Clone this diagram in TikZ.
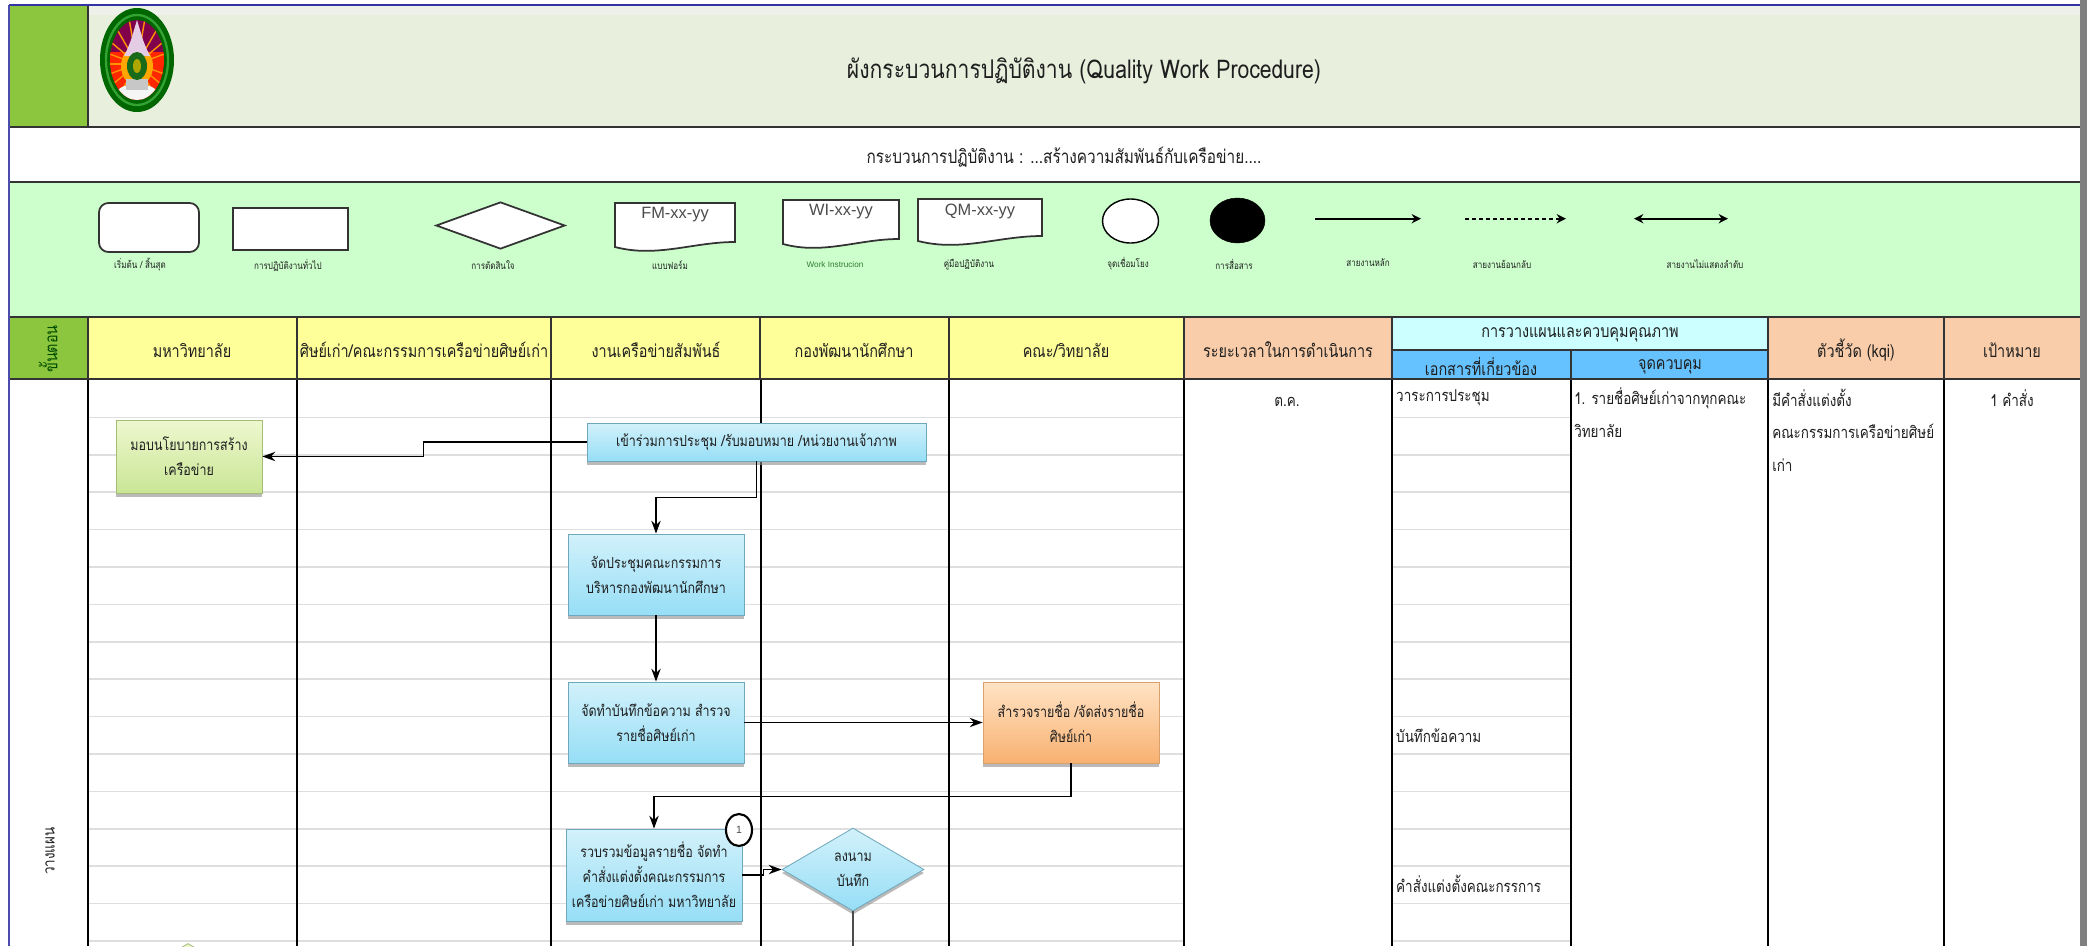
\documentclass[tikz,border=0pt]{standalone}
\usepackage{fontspec}
\setmainfont[Script=Thai,FakeStretch=0.82]{Loma}
\newfontfamily\latf{Liberation Sans}
\usetikzlibrary{arrows.meta,shapes.geometric,shadows,calc}
\newdimen\px \px=0.03cm
\newcommand{\tf}[2]{\fontsize{#1}{#2}\selectfont}
\definecolor{titlebg}{HTML}{E8EFDC}
\definecolor{titletop}{HTML}{EEF1EA}
\definecolor{leafg}{HTML}{8CC63F}
\definecolor{legbg}{HTML}{CCFFCC}
\definecolor{headY}{HTML}{FFFF99}
\definecolor{headP}{HTML}{F9CDAA}
\definecolor{headC}{HTML}{CCFFFF}
\definecolor{headB}{HTML}{66C2FF}
\definecolor{rule}{HTML}{333333}
\definecolor{rowline}{HTML}{DEDEDE}
\definecolor{ink}{HTML}{1E1E1E}
\definecolor{blueT}{HTML}{D2F1FB}
\definecolor{blueB}{HTML}{96DEF6}
\definecolor{blueE}{HTML}{6FA8BC}
\definecolor{orT}{HTML}{FFE3C5}
\definecolor{orB}{HTML}{F8B171}
\definecolor{orE}{HTML}{D9A06C}
\definecolor{grT}{HTML}{EEF7CF}
\definecolor{grB}{HTML}{C9E695}
\definecolor{grE}{HTML}{A3BC78}
\tikzset{
 cellh/.style={font=\tf{15}{18}, text=ink, inner sep=0pt},
 bodyt/.style={font=\tf{14}{17}, text=ink, inner sep=0pt},
 legl/.style={font=\tf{8.4}{10}, text=ink, inner sep=0pt},
 legshape/.style={draw=rule, line width=1.5pt, fill=white, inner sep=0pt},
 procbase/.style={rectangle, align=center, inner sep=0pt, font=\tf{13}{21.3}, text=ink, line width=0.7pt,
   drop shadow={shadow xshift=0pt, shadow yshift=-3pt, fill=black!45, opacity=.6}},
 blueproc/.style={procbase, draw=blueE, top color=blueT, bottom color=blueB},
 orangeproc/.style={procbase, draw=orE, top color=orT, bottom color=orB},
 greenproc/.style={procbase, draw=grE, top color=grT, bottom color=grB},
 flow/.style={draw=black, line width=1.3pt, -{Stealth[length=11pt,width=8pt]}},
 legflow/.style={draw=black, line width=1.6pt, -{Stealth[length=8pt,width=8pt]}},
}
\newcommand{\docshape}[6]{% name x0 y0 x1 y1 text
 \draw[legshape] (#2,#3) -- (#4,#3) -- (#4,#5-8)
   .. controls ({#4-0.35*(#4-#2)},#5-8) and ({#2+0.35*(#4-#2)},#5+8) .. (#2,#5-3) -- cycle;
 \node[font=\latf\tf{14}{16}, text=black!70, inner sep=0pt] (#1) at ({(#2+#4)/2},#3+12) {#6};
}
\begin{document}
\begin{tikzpicture}[x=0.03cm,y=-0.03cm]
\useasboundingbox (0,0) rectangle (2087,946);
\fill[white] (0,0) rectangle (2087,946);
% background bands
\fill[titlebg] (88,6) rectangle (2080,127);
\fill[titletop] (88,6) rectangle (2080,15);
\fill[leafg] (9,6) rectangle (88,127);
\fill[white] (9,127) rectangle (2080,182);
\fill[legbg] (9,182) rectangle (2080,317);
\fill[leafg] (9,317) rectangle (88,379);
\fill[headY] (88,317) rectangle (1184,379);
\fill[headP] (1184,317) rectangle (1392,379);
\fill[headC] (1392,317) rectangle (1768,350);
\fill[headB] (1392,350) rectangle (1768,379);
\fill[headP] (1768,317) rectangle (2080,379);
% body row lines
\foreach \ry in {417.5,455,492,529.5,567,604.5,642,679,716.5,754,791.5,829,866,903.5,941}{
  \draw[rowline, line width=1.5pt] (88,\ry) -- (1184,\ry);
  \draw[rowline, line width=1.5pt] (1392,\ry) -- (1571,\ry);
}
% body column lines
\foreach \cx in {88,297,551,761,949,1184,1392,1571,1768,1944}{
  \draw[black, line width=0.9pt] (\cx,379) -- (\cx,946);
}
% header rules
\foreach \cx in {297,551,760,949,1184,1392,1768,1944}{
  \draw[rule, line width=1.1pt] (\cx,317) -- (\cx,379);
}
\draw[rule, line width=1.1pt] (1571,350) -- (1571,379);
\draw[rule, line width=1.1pt] (1392,350) -- (1768,350);
\draw[rule, line width=1.1pt] (88,6) -- (88,127);
\draw[rule, line width=0.9pt] (88,317) -- (88,379);
\foreach \ry in {127,182,317}{\draw[rule, line width=1.6pt] (9,\ry) -- (2080,\ry);}
\draw[rule, line width=2pt] (9,379) -- (2080,379);
% outer frame
\draw[blue!55!black!80, line width=1.6pt] (9,5) -- (2080,5);
\draw[blue!55!black!70, line width=1pt] (9,5) -- (9,946);
\fill[black!50] (2080,0) rectangle (2087,946);
% logo
\begin{scope}
 \fill[green!40!black] (137,60) ellipse [x radius=37, y radius=52];
 \draw[green!55!black!80, line width=2pt] (137,60) ellipse [x radius=31, y radius=45];
 \clip (137,60) ellipse [x radius=27, y radius=40];
 \fill[violet!75!red!80!black] (100,8) rectangle (174,112);
 \fill[red!70!orange] (100,52) rectangle (174,112);
 \foreach \a in {20,40,...,340}{
   \draw[orange!85!yellow, line width=1.2pt] (137,64) -- ++(\a:50);
 }
 \fill[orange!70!yellow] (137,66) ellipse [x radius=16, y radius=20];
 \fill[white!80!violet] (137,20) -- (131,40) -- (127,50) -- (124,56) -- (150,56) -- (147,50) -- (143,40) -- cycle;
 \fill[white!92!gray] (137,93) ellipse [x radius=20, y radius=9];
 \fill[black!22] (126,79) rectangle (148,90);
\end{scope}
\fill[green!35!black!90] (137,66) ellipse [x radius=10, y radius=14];
\fill[olive!70!yellow] (137,66) ellipse [x radius=4, y radius=7];
% titles
\node[font=\tf{22}{26}, text=ink, inner sep=0pt] (title) at (1084,71) {ผังกระบวนการปฏิบัติงาน (Quality Work Procedure)};
\node[font=\tf{16}{19}, text=ink, inner sep=0pt] (subtitle) at (1064,157) {กระบวนการปฏิบัติงาน : ...สร้างความสัมพันธ์กับเครือข่าย....};
% legend
\node[legshape, rounded corners=8pt, minimum width=100\px, minimum height=49\px] (lgA) at (149,227.5) {};
\node[legshape, minimum width=115\px, minimum height=42\px] (lgB) at (290.5,229) {};
\node[legshape, diamond, aspect=2.7, minimum width=129\px, minimum height=47\px] (lgC) at (500.5,225.5) {};
\docshape{lgD}{615}{203}{735}{250}{FM-xx-yy}
\docshape{lgE}{783}{200}{899}{247}{WI-xx-yy}
\docshape{lgF}{918}{199}{1042}{244}{QM-xx-yy}
\node[ellipse, draw=black, line width=1.2pt, fill=white, minimum width=56\px, minimum height=44\px, inner sep=0pt] (lgG) at (1130.5,221) {};
\node[ellipse, draw=black, fill=black, minimum width=55\px, minimum height=45\px, inner sep=0pt] (lgH) at (1237.5,220.5) {};
\coordinate (a1s) at (1315,218.7); \coordinate (a1e) at (1421,218.7);
\coordinate (a2s) at (1465,218.7); \coordinate (a2e) at (1566,218.7);
\coordinate (a3s) at (1634,218.7); \coordinate (a3e) at (1728,218.7);
\draw[legflow] (a1s) -- (a1e);
\draw[legflow, dashed] (a2s) -- (a2e);
\draw[legflow, {Stealth[length=8pt,width=8pt]}-{Stealth[length=8pt,width=8pt]}] (a3s) -- (a3e);
\node[legl] (t1) at (140,265) {เริ่มต้น / สิ้นสุด};
\node[legl] (t2) at (288,265) {การปฏิบัติงานทั่วไป};
\node[legl] (t3) at (493,265) {การตัดสินใจ};
\node[legl] (t4) at (670,265) {แบบฟอร์ม};
\node[legl, text=green!35!black!80, font=\latf\tf{7}{8}] (t5) at (835,265) {Work Instrucion};
\node[legl] (t6) at (969,265) {คู่มือปฏิบัติงาน};
\node[legl] (t7) at (1128,264) {จุดเชื่อมโยง};
\node[legl] (t8) at (1234,264) {การสื่อสาร};
\node[legl] (t9) at (1368,263) {สายงานหลัก};
\node[legl] (t10) at (1502,264) {สายงานย้อนกลับ};
\node[legl] (t11) at (1705,264) {สายงานไม่แสดงลำดับ};
% header text
\node[cellh, rotate=90, text=green!30!black] (h0) at (48,349) {ขั้นตอน};
\node[cellh] (h1) at (192,350) {มหาวิทยาลัย};
\node[cellh] (h2) at (424,350) {ศิษย์เก่า/คณะกรรมการเครือข่ายศิษย์เก่า};
\node[cellh] (h3) at (656,350) {งานเครือข่ายสัมพันธ์};
\node[cellh] (h4) at (854,350) {กองพัฒนานักศึกษา};
\node[cellh] (h5) at (1066,350) {คณะ/วิทยาลัย};
\node[cellh] (h6) at (1288,350) {ระยะเวลาในการดำเนินการ};
\node[cellh] (h7) at (1580,335) {การวางแผนและควบคุมคุณภาพ};
\node[cellh] (h8) at (1481,367) {เอกสารที่เกี่ยวข้อง};
\node[cellh] (h9) at (1670,367) {จุดควบคุม};
\node[cellh] (h10) at (1856,350) {ตัวชี้วัด (kqi)};
\node[cellh] (h11) at (2012,350) {เป้าหมาย};
% body text
\node[bodyt, rotate=90] (v1) at (50,851) {วางแผน};
\node[bodyt] (c1) at (1287,402) {ต.ค.};
\node[bodyt, anchor=west] (c2) at (1396,398) {วาระการประชุม};
\node[bodyt, anchor=west] (c3) at (1396,735.5) {บันทึกข้อความ};
\node[bodyt, anchor=west] (c4) at (1396,883.5) {คำสั่งแต่งตั้งคณะกรรการ};
\node[bodyt, anchor=west] (c5) at (1574,398) {1. รายชื่อศิษย์เก่าจากทุกคณะ};
\node[bodyt, anchor=west] (c6) at (1574,431) {วิทยาลัย};
\node[bodyt, anchor=west] (c7) at (1772,398) {มีคำสั่งแต่งตั้ง};
\node[bodyt, anchor=west] (c8) at (1772,431) {คณะกรรมการเครือข่ายศิษย์};
\node[bodyt, anchor=west] (c9) at (1772,465) {เก่า};
\node[bodyt] (c10) at (2012,398) {1 คำสั่ง};
% cut-off shape at the lower edge
\begin{scope}
 \clip (100,930) rectangle (280,946);
 \node[diamond, aspect=1.7, minimum width=142\px, minimum height=83\px, fill=grT, draw=grE, line width=0.7pt] (g2) at (188,985) {};
\end{scope}
% process shapes
\node[greenproc, minimum width=146\px, minimum height=73\px] (g1) at (189,456.5) {มอบนโยบายการสร้าง\\เครือข่าย};
\node[blueproc, minimum width=339\px, minimum height=38\px] (b1) at (756.5,442) {เข้าร่วมการประชุม /รับมอบหมาย /หน่วยงานเจ้าภาพ};
\node[blueproc, minimum width=176\px, minimum height=81\px] (b2) at (656,574.5) {จัดประชุมคณะกรรมการ\\บริหารกองพัฒนานักศึกษา};
\node[blueproc, minimum width=176\px, minimum height=81\px] (b3) at (656,722.5) {จัดทำบันทึกข้อความ สำรวจ\\รายชื่อศิษย์เก่า};
\node[orangeproc, minimum width=176\px, minimum height=81\px] (o1) at (1071,722.5) {สำรวจรายชื่อ /จัดส่งรายชื่อ\\ศิษย์เก่า};
\node[blueproc, minimum width=176\px, minimum height=92\px] (b4) at (654,875) {รวบรวมข้อมูลรายชื่อ จัดทำ\\คำสั่งแต่งตั้งคณะกรรมการ\\เครือข่ายศิษย์เก่า มหาวิทยาลัย};
\node[blueproc, diamond, aspect=1.71, minimum width=142\px, minimum height=83\px] (d1) at (853,869.5) {ลงนาม\\บันทึก};
\node[ellipse, draw=black, line width=1.8pt, fill=white, minimum width=26\px, minimum height=32\px, inner sep=0pt, font=\latf\tf{9}{10}, text=black!70] (n1) at (739,830) {1};
% connectors
\coordinate (bot) at (853,946);
\draw[flow] (b1.west) -- ++(-163,0) |- (g1.east);
\draw[flow] (b1.south) -- ++(0,36) -| (b2.north);
\draw[flow] (b2.south) -- (b3.north);
\draw[flow] (b3.east) -- (o1.west);
\draw[flow] (o1.south) -- ++(0,33) -| (b4.north);
\draw[flow] (b4.east) -- ++(21,0) |- (d1.west);
\draw[black!70, line width=1.3pt] (d1.south) -- (bot);
\end{tikzpicture}
\end{document}
